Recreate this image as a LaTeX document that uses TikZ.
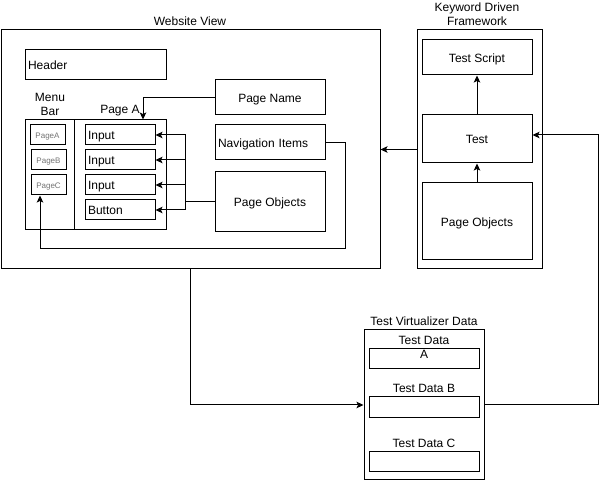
\documentclass[tikz,border=0pt]{standalone}
\usepackage{fontspec}
\setmainfont{Liberation Sans}
\usetikzlibrary{arrows.meta}
\begin{document}
\begin{tikzpicture}[x=1pt,y=-1pt,line width=1pt,
  font=\fontsize{12}{14}\selectfont,
  >={Stealth[length=7pt,width=6.5pt,inset=1.5pt]},
  box/.style={draw,inner sep=0pt,minimum width=110pt,minimum height=35pt,
    text height=10pt,text depth=0pt},
  lbox/.style={draw,inner xsep=3pt,inner ysep=0pt,align=left,minimum height=20pt,
    text height=10pt,text depth=0pt},
  tab/.style={draw,inner sep=0pt,minimum width=35pt,minimum height=20pt,
    text=black!55,font=\fontsize{8}{9}\selectfont,text height=7pt,text depth=0pt},
  frame/.style={draw,inner sep=0pt}]
\useasboundingbox (0,0) rectangle (606,481);
\node[frame,minimum width=379pt,minimum height=239pt]
(web) at (190.5,149.5) {};
\node
(webl) at (190,21) {Website View};
\node[lbox,text width=135pt,minimum height=30pt]
(header) at (95.5,65) {Header};
\node[frame,minimum width=141pt,minimum height=110pt]
(pages) at (95.5,175) {};
\draw ([xshift=50pt]pages.north west) -- ([xshift=50pt]pages.south west);
\node[align=center,inner sep=0pt]
(menul) at (50,104) {Menu\\Bar};
\node
(pagel) at (120,110.5) {Page A};
\node[tab]
(pagea) at (47.5,135) {PageA};
\node[tab]
(pageb) at (48.5,160) {PageB};
\node[tab]
(pagec) at (48.5,185) {PageC};
\node[lbox,text width=64pt]
(in1) at (120,135) {Input};
\node[lbox,text width=64pt]
(in2) at (120,160) {Input};
\node[lbox,text width=64pt]
(in3) at (120,185) {Input};
\node[lbox,text width=64pt]
(btn) at (120,210) {Button};
\node[box]
(pagename) at (270,97.5) {Page Name};
\node[box,text width=104pt,inner xsep=3pt,align=left]
(navitems) at (270,142.5) {Navigation Items};
\node[box,minimum height=60pt]
(pageobj) at (270,202) {Page Objects};
\node[frame,minimum width=125pt,minimum height=239pt]
(kdf) at (479.5,149.5) {};
\node[align=center,inner sep=0pt]
(kdfl) at (477,14) {Keyword Driven\\Framework};
\node[box]
(testscript) at (477,57.5) {Test Script};
\node[box,minimum height=48pt]
(test) at (477,139) {Test};
\node[box,minimum height=77pt]
(kpageobj) at (477,221.5) {Page Objects};
\node[frame,minimum width=120pt,minimum height=150pt]
(tvd) at (424,405) {};
\node
(tvdl) at (424,321.5) {Test Virtualizer Data};
\node[box,minimum height=20pt]
(tda) at (424,359) {};
\node[align=center,inner sep=0pt]
(tdal) at (424,347.5) {Test Data\\A};
\node[box,minimum height=21pt]
(tdb) at (424,407.5) {};
\node
(tdbl) at (424,388.5) {Test Data B};
\node[box,minimum height=20pt]
(tdc) at (424,462) {};
\node
(tdcl) at (424,443.5) {Test Data C};
\coordinate (trunk) at (185,202);
\coordinate (navdown) at (345,249);
\coordinate (tvdturn) at (598,405);
\draw[->] (pagename.west) -| ([xshift=47.5pt]pages.north);
\foreach \n in {in1,in2,in3,btn}
  \draw[->] (pageobj.west) -- (trunk) |- (\n.east);
\draw[->] (navitems.east) -| (navdown) -| ([xshift=-8.5pt]pagec.south);
\draw[->] (kdf.west) -- (web.east);
\draw[->] (kpageobj.north) -- (test.south);
\draw[->] (test.north) -- (testscript.south);
\draw[->] (web.south) |- (tvd.west);
\draw[->] (tvd.east) -- (tvdturn) |- ([yshift=4pt]test.east);
\end{tikzpicture}
\end{document}
